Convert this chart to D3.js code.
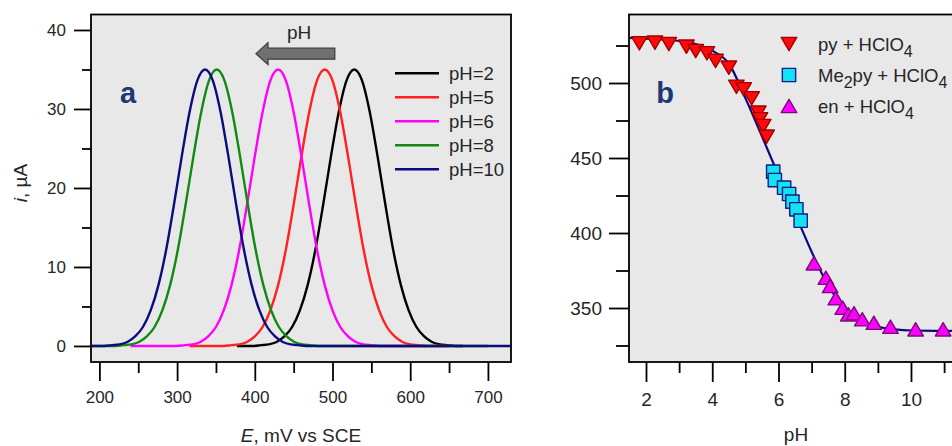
<!DOCTYPE html>
<html><head><meta charset="utf-8">
<script src="https://cdn.jsdelivr.net/npm/d3@7"></script>
<style>
body{margin:0;background:#fff;}
svg{display:block;font-family:"Liberation Sans",Arial,sans-serif;}
</style></head><body>
<svg id="c" width="952" height="446"></svg>
<script>
// ---------- DATA: panel a (voltammograms) ----------
const seriesNames = ["pH=2", "pH=5", "pH=6", "pH=8", "pH=10"];
const curvePH2 = [[377,0],[398,0],[408,0.1],[418,0.2],[428,0.5],[438,1.2],[448,2.4],[458,4.5],[468,7.7],[478,12.2],[488,17.9],[498,24.0],[508,29.6],[518,33.6],[528,35.0],[538,33.6],[548,29.6],[558,24.0],[568,17.9],[578,12.2],[588,7.7],[598,4.5],[608,2.4],[618,1.2],[628,0.5],[638,0.2],[648,0.1],[658,0],[668,0]];
const curvePH5 = [[316,0],[360,0],[370,0.1],[380,0.2],[390,0.5],[400,1.2],[410,2.4],[420,4.5],[430,7.7],[440,12.2],[450,17.9],[460,24.0],[470,29.6],[480,33.6],[490,35.0],[500,33.6],[510,29.6],[520,24.0],[530,17.9],[540,12.2],[550,7.7],[560,4.5],[570,2.4],[580,1.2],[590,0.5],[600,0.2],[610,0.1],[620,0],[650,0]];
const curvePH6 = [[240,0],[300,0],[310,0.1],[320,0.2],[330,0.5],[340,1.2],[350,2.4],[360,4.5],[370,7.7],[380,12.2],[390,17.9],[400,24.0],[410,29.6],[420,33.6],[430,35.0],[440,33.6],[450,29.6],[460,24.0],[470,17.9],[480,12.2],[490,7.7],[500,4.5],[510,2.4],[520,1.2],[530,0.5],[540,0.2],[550,0.1],[560,0],[620,0]];
const curvePH8 = [[190,0],[221,0],[231,0.1],[241,0.2],[251,0.5],[261,1.2],[271,2.4],[281,4.5],[291,7.7],[301,12.2],[311,17.9],[321,24.0],[331,29.6],[341,33.6],[351,35.0],[361,33.6],[371,29.6],[381,24.0],[391,17.9],[401,12.2],[411,7.7],[421,4.5],[431,2.4],[441,1.2],[451,0.5],[461,0.2],[471,0.1],[481,0],[700,0]];
const curvePH10 = [[190,0],[206,0],[216,0.1],[226,0.2],[236,0.5],[246,1.2],[256,2.4],[266,4.5],[276,7.7],[286,12.2],[296,17.9],[306,24.0],[316,29.6],[326,33.6],[336,35.0],[346,33.6],[356,29.6],[366,24.0],[376,17.9],[386,12.2],[396,7.7],[406,4.5],[416,2.4],[426,1.2],[436,0.5],[446,0.2],[456,0.1],[466,0],[730,0]];
const xTicksA = [200, 300, 400, 500, 600, 700];
const xMinorA = [250, 350, 450, 550, 650];
const yTicksA = [0, 10, 20, 30, 40];
const yMinorA = [5, 15, 25, 35];

// ---------- DATA: panel b (peak potential vs pH) ----------
const legendB = ["py + HClO", "Me", "en + HClO"];
const pyPH  = [1.80, 2.27, 2.69, 3.22, 3.50, 3.84, 4.10, 4.50, 4.73, 4.95, 5.19, 5.39, 5.44, 5.54, 5.64];
const pyE   = [526.5, 526.9, 526.0, 524.2, 521.3, 519.8, 514.7, 510.2, 497.5, 495.8, 489.8, 480.2, 475.8, 471.3, 464.2];
const me2pyPH = [5.84, 5.89, 6.17, 6.32, 6.42, 6.54, 6.67];
const me2pyE  = [440.9, 435.3, 430.2, 426.0, 420.9, 415.8, 408.2];
const enPH = [7.07, 7.43, 7.56, 7.73, 7.94, 8.11, 8.28, 8.53, 8.88, 9.38, 10.14, 10.97];
const enE  = [379.8, 370.2, 364.7, 356.5, 350.2, 345.8, 346.5, 342.5, 340.2, 337.5, 335.8, 335.8];
const fitPH = [1.5, 2.0, 2.5, 3.0, 3.5, 4.0, 4.5, 5.0, 5.5, 6.0, 6.5, 7.0, 7.5, 8.0, 8.5, 9.0, 9.5, 10.0, 11.0, 12.5];
const fitE  = [530, 529.5, 529, 528, 526, 521.5, 513, 490, 464.5, 438.5, 413, 387.5, 365, 350, 341.5, 337.5, 335.8, 335, 334.8, 334.8];
const xTicksB = [2, 4, 6, 8, 10];
const xMinorB = [3, 5, 7, 9, 11];
const yTicksB = [350, 400, 450, 500];
const yMinorB = [325, 375, 425, 475, 525];

// ---------- STYLE ----------
const curveColors = ["#000000", "#ff2020", "#ff00ff", "#108a10", "#0c0c7c"];
const plotBg = "#e8e8e8";
const textCol = "#262626";

const svg = d3.select("#c");

// ---------- Panel a ----------
const A = {x0: 91, x1: 511, y0: 14.5, y1: 362};
const xA = d3.scaleLinear().domain([189.2, 729.7]).range([A.x0, A.x1]);
const yA = d3.scaleLinear().domain([-2.03, 41.96]).range([A.y1, A.y0]);

svg.append("rect").attr("x", A.x0).attr("y", A.y0).attr("width", A.x1 - A.x0).attr("height", A.y1 - A.y0).attr("fill", plotBg);
svg.append("clipPath").attr("id", "clipA").append("rect").attr("x", A.x0).attr("y", A.y0).attr("width", A.x1 - A.x0).attr("height", A.y1 - A.y0);

const lineA = d3.line().x(d => xA(d[0])).y(d => yA(d[1])).curve(d3.curveMonotoneX);
const curvesA = [curvePH2, curvePH5, curvePH6, curvePH8, curvePH10];
const gA = svg.append("g").attr("clip-path", "url(#clipA)");
curvesA.forEach((c, i) => {
  gA.append("path").datum(c).attr("d", lineA).attr("fill", "none")
    .attr("stroke", curveColors[i]).attr("stroke-width", 2.4).attr("stroke-linejoin", "round");
});

function styleAxis(g, fs) {
  g.select(".domain").remove();
  g.selectAll("line").attr("stroke", "#000").attr("stroke-width", 1.8);
  g.selectAll("text").attr("fill", textCol).style("font-size", fs + "px").style("font-family", "'Liberation Sans', Arial, sans-serif");
}

// axes a
const axA_y = svg.append("g").attr("transform", `translate(${A.x0},0)`)
  .call(d3.axisLeft(yA).tickValues(yTicksA).tickSize(17).tickPadding(8).tickFormat(d3.format("d")));
styleAxis(axA_y, 17);
const axA_ym = svg.append("g").attr("transform", `translate(${A.x0},0)`)
  .call(d3.axisLeft(yA).tickValues(yMinorA).tickSize(9).tickFormat(""));
styleAxis(axA_ym, 17);
const axA_x = svg.append("g").attr("transform", `translate(0,${A.y1})`)
  .call(d3.axisBottom(xA).tickValues(xTicksA).tickSize(19).tickPadding(10).tickFormat(d3.format("d")));
styleAxis(axA_x, 17);
const axA_xm = svg.append("g").attr("transform", `translate(0,${A.y1})`)
  .call(d3.axisBottom(xA).tickValues(xMinorA).tickSize(11).tickFormat(""));
styleAxis(axA_xm, 17);

svg.append("rect").attr("x", A.x0).attr("y", A.y0).attr("width", A.x1 - A.x0).attr("height", A.y1 - A.y0)
  .attr("fill", "none").attr("stroke", "#000").attr("stroke-width", 1.8);

// axis titles a
const tx = svg.append("text").attr("x", (A.x0 + A.x1) / 2).attr("y", 442).attr("text-anchor", "middle")
  .attr("fill", textCol).style("font-size", "19px");
tx.append("tspan").attr("font-style", "italic").text("E");
tx.append("tspan").text(", mV vs SCE");
const ty = svg.append("text").attr("transform", "translate(27,183) rotate(-90)").attr("text-anchor", "middle")
  .attr("fill", textCol).style("font-size", "19px");
ty.append("tspan").attr("font-style", "italic").text("i");
ty.append("tspan").text(", µA");

// panel letter a
svg.append("text").attr("x", 128).attr("y", 103).attr("text-anchor", "middle")
  .attr("fill", "#1f3773").style("font-size", "29px").style("font-weight", "bold").text("a");

// arrow + pH
const arrTip = xA(401.5), arrTail = xA(503), arrHead = xA(417), arrY = yA(37.0);
svg.append("path")
  .attr("d", `M${arrTip},${arrY} L${arrHead},${arrY - 11} L${arrHead},${arrY - 5.5} L${arrTail},${arrY - 5.5} L${arrTail},${arrY + 5.5} L${arrHead},${arrY + 5.5} L${arrHead},${arrY + 11} Z`)
  .attr("fill", "#707070").attr("stroke", "#3c3c3c").attr("stroke-width", 1.2);
svg.append("text").attr("x", xA(457)).attr("y", 38.5).attr("text-anchor", "middle")
  .attr("fill", textCol).style("font-size", "19px").text("pH");

// legend a
seriesNames.forEach((n, i) => {
  const yy = 73.3 + i * 24;
  svg.append("line").attr("x1", 395).attr("x2", 439).attr("y1", yy).attr("y2", yy)
    .attr("stroke", curveColors[i]).attr("stroke-width", 2.4);
  svg.append("text").attr("x", 449).attr("y", yy + 6.6).attr("fill", textCol)
    .style("font-size", "18.5px").text(n);
});

// ---------- Panel b ----------
const B = {x0: 629, x1: 962, y0: 14.5, y1: 362};
const xB = d3.scaleLinear().domain([1.487, 11.54]).range([B.x0, B.x1]);
const yB = d3.scaleLinear().domain([314.0, 545.67]).range([B.y1, B.y0]);

svg.append("rect").attr("x", B.x0).attr("y", B.y0).attr("width", B.x1 - B.x0).attr("height", B.y1 - B.y0).attr("fill", plotBg);
svg.append("clipPath").attr("id", "clipB").append("rect").attr("x", B.x0).attr("y", B.y0).attr("width", B.x1 - B.x0).attr("height", B.y1 - B.y0);
const gB = svg.append("g").attr("clip-path", "url(#clipB)");

const fitData = fitPH.map((p, i) => [p, fitE[i]]);
gB.append("path").datum(fitData)
  .attr("d", d3.line().x(d => xB(d[0])).y(d => yB(d[1])).curve(d3.curveMonotoneX))
  .attr("fill", "none").attr("stroke", "#0a0a80").attr("stroke-width", 2.2);

const triW = 15.5, triH = 13.3, sq = 13.3;
const triDown = `M${-triW/2},${-triH/2} L${triW/2},${-triH/2} L0,${triH/2} Z`;
const triUp = `M${-triW/2},${triH/2} L${triW/2},${triH/2} L0,${-triH/2} Z`;
const sqPath = `M${-sq/2},${-sq/2} h${sq} v${sq} h${-sq} Z`;
const mk = {
  py: {path: triDown, fill: "#ff0a0a", stroke: "#a00000"},
  me: {path: sqPath, fill: "#12e2f2", stroke: "#101a8a"},
  en: {path: triUp, fill: "#ff00ff", stroke: "#7a0a7a"}
};
function drawMarkers(ph, e, m) {
  gB.selectAll(null).data(ph.map((p, i) => [p, e[i]])).enter().append("path")
    .attr("d", m.path).attr("transform", d => `translate(${xB(d[0])},${yB(d[1])})`)
    .attr("fill", m.fill).attr("stroke", m.stroke).attr("stroke-width", 1.4).attr("stroke-linejoin", "round");
}
drawMarkers(pyPH, pyE, mk.py);
drawMarkers(me2pyPH, me2pyE, mk.me);
drawMarkers(enPH, enE, mk.en);

const axB_y = svg.append("g").attr("transform", `translate(${B.x0},0)`)
  .call(d3.axisLeft(yB).tickValues(yTicksB).tickSize(20).tickPadding(7).tickFormat(d3.format("d")));
styleAxis(axB_y, 19);
const axB_ym = svg.append("g").attr("transform", `translate(${B.x0},0)`)
  .call(d3.axisLeft(yB).tickValues(yMinorB).tickSize(13).tickFormat(""));
styleAxis(axB_ym, 19);
const axB_x = svg.append("g").attr("transform", `translate(0,${B.y1})`)
  .call(d3.axisBottom(xB).tickValues(xTicksB).tickSize(20).tickPadding(11).tickFormat(d3.format("d")));
styleAxis(axB_x, 19);
const axB_xm = svg.append("g").attr("transform", `translate(0,${B.y1})`)
  .call(d3.axisBottom(xB).tickValues(xMinorB).tickSize(11).tickFormat(""));
styleAxis(axB_xm, 19);

svg.append("rect").attr("x", B.x0).attr("y", B.y0).attr("width", B.x1 - B.x0).attr("height", B.y1 - B.y0)
  .attr("fill", "none").attr("stroke", "#000").attr("stroke-width", 1.8);

svg.append("text").attr("x", 796).attr("y", 441).attr("text-anchor", "middle")
  .attr("fill", textCol).style("font-size", "19px").text("pH");
svg.append("text").attr("x", 665).attr("y", 103).attr("text-anchor", "middle")
  .attr("fill", "#1f3773").style("font-size", "29px").style("font-weight", "bold").text("b");

// legend b
const legMarks = [mk.py, mk.me, mk.en];
legMarks.forEach((m, i) => {
  const yy = 44 + i * 31;
  svg.append("path").attr("d", m.path).attr("transform", `translate(789,${yy})`)
    .attr("fill", m.fill).attr("stroke", m.stroke).attr("stroke-width", 1.4).attr("stroke-linejoin", "round");
  const t = svg.append("text").attr("x", 818).attr("y", yy + 7).attr("fill", textCol).style("font-size", "18.5px");
  if (i === 1) {
    t.append("tspan").text(legendB[1]);
    t.append("tspan").attr("dy", 6).style("font-size", "16px").text("2");
    t.append("tspan").attr("dy", -6).text("py + HClO");
    t.append("tspan").attr("dy", 6).style("font-size", "16px").text("4");
  } else {
    t.append("tspan").text(legendB[i]);
    t.append("tspan").attr("dy", 6).style("font-size", "16px").text("4");
  }
});
</script>
</body></html>
